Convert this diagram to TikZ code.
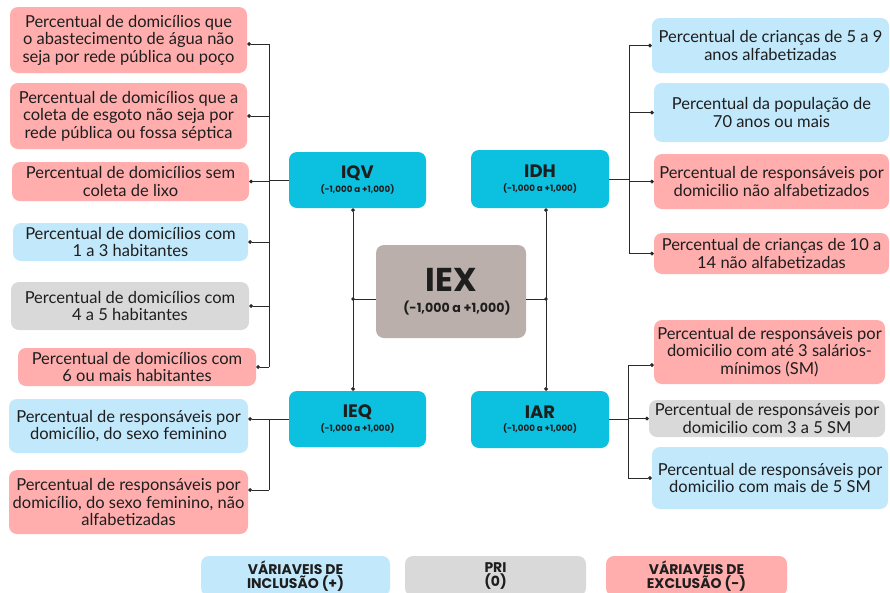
\documentclass[tikz,border=0pt]{standalone}
\usepackage{fontspec}
\setmainfont{Lato}
\newfontfamily\hdfont{Poppins}
\usetikzlibrary{arrows.meta,calc}
\definecolor{cpink}{HTML}{FFAEAD}
\definecolor{cblue}{HTML}{C2E8FB}
\definecolor{cgray}{HTML}{D9D9D9}
\definecolor{ccyan}{HTML}{0CC0DF}
\definecolor{ciex}{HTML}{BBAFAB}
\definecolor{txt}{HTML}{1E1E1E}
\definecolor{lk}{HTML}{2A2A2A}
\tikzset{
  box/.style={rounded corners=8pt, align=center, inner sep=0pt, text=txt,
    font=\fontsize{16.5}{17.5}\selectfont},
  pinkbox/.style={box, fill=cpink},
  bluebox/.style={box, fill=cblue},
  graybox/.style={box, fill=cgray},
  hub/.style={rounded corners=8pt, fill=ccyan, align=center, inner sep=0pt, text=txt,
    minimum width=137pt, minimum height=56pt,
    font=\hdfont\bfseries\fontsize{8.7}{13.5}\selectfont},
  legend/.style={rounded corners=8pt, align=center, inner sep=0pt, text=txt,
    minimum width=186pt, minimum height=40pt,
    font=\hdfont\bfseries\fontsize{14}{14.5}\selectfont},
  link/.style={draw=lk, line width=0.9pt},
  dotend/.style={-{Circle[length=3.8pt]}},
  dotboth/.style={{Circle[length=3.8pt]}-{Circle[length=3.8pt]}},
}
\begin{document}
\begin{tikzpicture}[x=1pt,y=-1pt]
\clip (0,0) rectangle (890,592);
\fill[white] (0,0) rectangle (890,592);

% left column
\node[pinkbox, minimum width=237pt, minimum height=66pt] (l1) at (128.5,40)
  {Percentual de domicílios que\\o abastecimento de água não\\seja por rede pública ou poço};
\node[pinkbox, minimum width=237pt, minimum height=66pt] (l2) at (128.5,116)
  {Percentual de domicílios que a\\coleta de esgoto não seja por\\rede pública ou fossa séptica};
\node[pinkbox, minimum width=237pt, minimum height=39pt] (l3) at (130.5,181.5)
  {Percentual de domicílios sem\\coleta de lixo};
\node[bluebox, minimum width=235pt, minimum height=38pt] (l4) at (130.5,242)
  {Percentual de domicílios com\\1 a 3 habitantes};
\node[graybox, minimum width=238pt, minimum height=48pt] (l5) at (130,306)
  {Percentual de domicílios com\\4 a 5 habitantes};
\node[pinkbox, minimum width=238pt, minimum height=38pt] (l6) at (137,367)
  {Percentual de domicílios com\\6 ou mais habitantes};
\node[bluebox, minimum width=239pt, minimum height=54pt] (l7) at (128.5,426)
  {Percentual de responsáveis por\\domicílio, do sexo feminino};
\node[pinkbox, minimum width=239pt, minimum height=64pt] (l8) at (128.5,502)
  {Percentual de responsáveis por\\domicílio, do sexo feminino, não\\alfabetizadas};

% hubs
\node[hub] (IQV) at (357.5,180) {{\fontsize{18}{18}\selectfont IQV}\\(-1,000 a +1,000)};
\node[hub, minimum width=138pt, minimum height=58pt] (IDH) at (540,179) {{\fontsize{18}{18}\selectfont IDH}\\(-1,000 a +1,000)};
\node[hub] (IEQ) at (357.5,419) {{\fontsize{18}{18}\selectfont IEQ}\\(-1,000 a +1,000)};
\node[hub, minimum width=138pt, minimum height=57pt] (IAR) at (540,419.5) {{\fontsize{18}{18}\selectfont IAR}\\(-1,000 a +1,000)};
\node[hub, fill=ciex, minimum width=150pt, minimum height=93pt,
  font=\hdfont\bfseries\fontsize{12.6}{21}\selectfont] (IEX) at (451,291.5)
  {{\fontsize{33}{33}\selectfont IEX}\\\hspace*{12pt}(-1,000 a +1,000)};

% right column
\node[bluebox, minimum width=237pt, minimum height=55pt] (r1) at (770.5,45.5)
  {Percentual de crianças de 5 a 9\\anos alfabetizadas};
\node[bluebox, minimum width=235pt, minimum height=59pt] (r2) at (771.5,112.5)
  {Percentual da população de\\70 anos ou mais};
\node[pinkbox, minimum width=235pt, minimum height=55pt] (r3) at (771.5,181.5)
  {Percentual de responsáveis por\\domicilio não alfabetizados};
\node[pinkbox, minimum width=235pt, minimum height=41pt] (r4) at (771.5,253.5)
  {Percentual de crianças de 10 a\\14 não alfabetizadas};
\node[pinkbox, minimum width=231pt, minimum height=64pt] (r5) at (769.5,352)
  {Percentual de responsáveis por\\domicilio com até 3 salários-\\mínimos (SM)};
\node[graybox, minimum width=236pt, minimum height=37pt] (r6) at (767,418.5)
  {Percentual de responsáveis por\\domicilio com 3 a 5 SM};
\node[bluebox, minimum width=236pt, minimum height=62pt] (r7) at (770,478)
  {Percentual de responsáveis por\\domicilio com mais de 5 SM};

% legend
\node[legend, fill=cblue, minimum width=189pt] (g1) at (295.5,576) {VÁRIAVEIS DE\\INCLUSÃO (+)};
\node[legend, fill=cgray, minimum width=181pt] (g2) at (495.5,576) {PRI\\(0)};
\node[legend, fill=cpink, minimum width=181pt] (g3) at (696.5,576) {VÁRIAVEIS DE\\EXCLUSÃO (-)};

% IQV group
\coordinate (qbus) at (269,181);
\coordinate (l1p) at ([yshift=-4pt]l1.east);
\draw[link] (IQV.west) -- (IQV.west -| qbus);
\draw[link] (l1p -| qbus) -- (l6.east -| qbus);
\foreach \n in {l1p,l2.east,l3.east,l4.east,l5.east,l6.east}
  \draw[link,dotend] (\n -| qbus) -- (\n);

% IEQ group
\coordinate (ebus) at (269,419);
\coordinate (l7p) at (IEQ.west -| l7.east);
\coordinate (l8p) at ([yshift=12pt]l8.east);
\draw[link] (IEQ.west) -- (IEQ.west -| ebus);
\draw[link,dotend] (IEQ.west -| ebus) -- (l7p);
\draw[link] (IEQ.west -| ebus) -- (l8p -| ebus);
\draw[link,dotend] (l8p -| ebus) -- (l8p);

% centre
\coordinate (lv) at (353,299);
\coordinate (rv) at (546,299);
\draw[link,dotboth] (IQV.south -| lv) -- (IEQ.north -| lv);
\draw[link,dotboth] (IDH.south -| rv) -- (IAR.north -| rv);
\draw[link] (IEX.west |- lv) -- (lv);
\draw[link] (IEX.east |- rv) -- (rv);
\fill[lk] (lv) circle (1.9);
\fill[lk] (rv) circle (1.9);

% IDH group
\coordinate (dbus) at (629,181);
\draw[link] (IDH.east) -- (IDH.east -| dbus);
\draw[link] (r1.west -| dbus) -- (r4.west -| dbus);
\foreach \n in {r1,r2,r3,r4}
  \draw[link,dotend] (\n.west -| dbus) -- (\n.west);

% IAR group
\coordinate (abus) at (628,418);
\coordinate (r5p) at ([yshift=-13pt]r5.west);
\draw[link] (IAR.east) -- (IAR.east -| abus);
\draw[link] (r5p -| abus) -- (r7.west -| abus);
\foreach \n in {r5p,r6.west,r7.west}
  \draw[link,dotend] (\n -| abus) -- (\n);
\end{tikzpicture}
\end{document}
